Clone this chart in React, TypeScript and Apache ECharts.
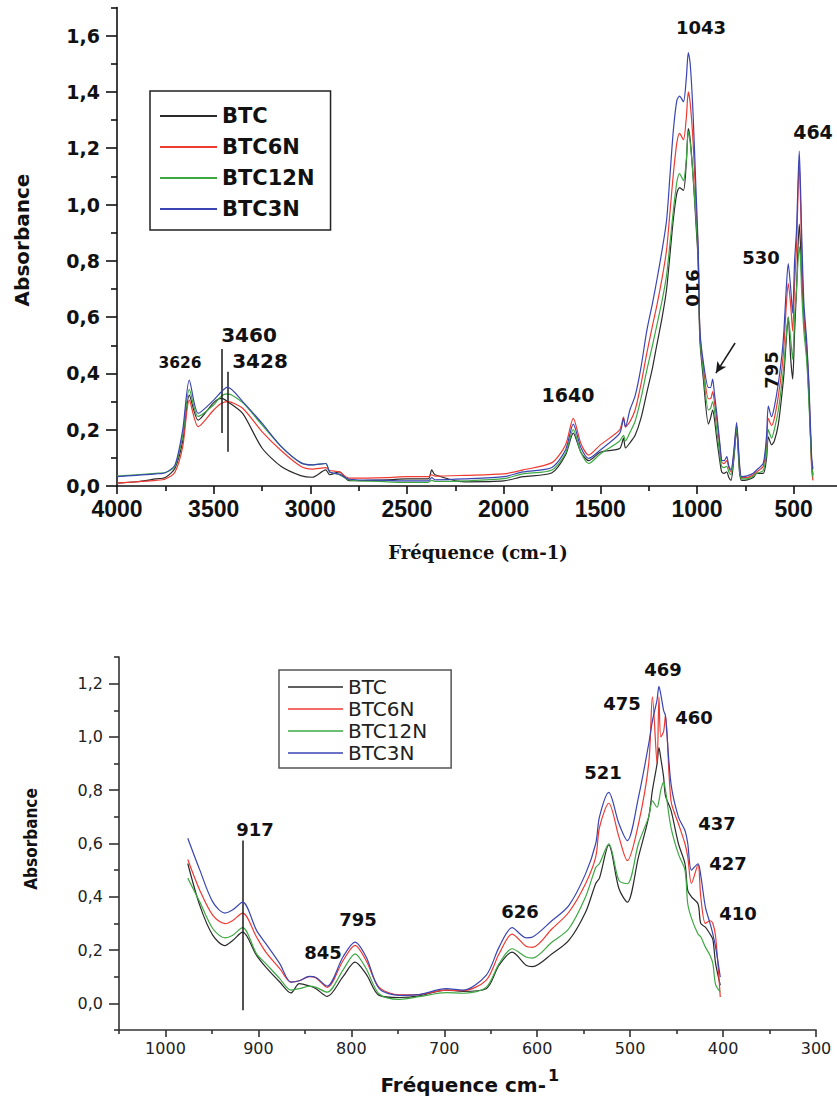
import React, { useEffect, useRef } from 'react';
import * as echarts from 'echarts';

const seriesNames = ['BTC', 'BTC6N', 'BTC12N', 'BTC3N'];
const seriesColors = ['#2a2a2a', '#ee3a31', '#3da842', '#3a45b3'];

// ---------- Top spectrum (4000 - 400 cm-1) ----------
const topWave = [
  4000, 3900, 3800, 3750, 3700, 3660, 3626, 3580, 3500, 3460,
  3428, 3350, 3250, 3150, 3050, 2990, 2920, 2900, 2850, 2800,
  2600, 2500, 2390, 2372, 2355, 2200, 2000, 1900, 1750, 1680, 1640,
  1600, 1560, 1500, 1400, 1380, 1370, 1347, 1320, 1290, 1260,
  1230, 1208, 1180, 1157, 1140, 1122, 1104, 1090, 1070, 1055,
  1045, 1035, 1020, 1005, 994, 985, 967, 941, 930, 919,
  910, 898, 880, 872, 860, 846, 835, 824, 810, 795,
  780, 769, 740, 709, 691, 657, 640, 631, 614, 600,
  579, 560, 550, 540, 528, 515, 505, 495, 485, 471,
  464, 459, 447, 433, 421, 407, 400,
];
const topBTC = [
  0.01, 0.015, 0.025, 0.03, 0.063, 0.16, 0.323, 0.234, 0.296, 0.311,
  0.30, 0.258, 0.135, 0.069, 0.037, 0.031, 0.057, 0.04, 0.05, 0.019,
  0.022, 0.025, 0.025, 0.057, 0.04, 0.015, 0.018, 0.033, 0.047, 0.11, 0.188,
  0.119, 0.09, 0.12, 0.133, 0.17, 0.135, 0.153, 0.18, 0.24, 0.33,
  0.42, 0.50, 0.60, 0.70, 0.82, 0.95, 1.04, 1.06, 1.05, 1.15,
  1.27, 1.23, 1.10, 0.93, 0.80, 0.52, 0.38, 0.22, 0.24, 0.27,
  0.24, 0.17, 0.08, 0.05, 0.045, 0.05, 0.03, 0.02, 0.09, 0.20,
  0.05, 0.02, 0.022, 0.03, 0.045, 0.045, 0.10, 0.175, 0.146, 0.16,
  0.22, 0.33, 0.40, 0.50, 0.60, 0.45, 0.38, 0.55, 0.70, 0.93,
  0.85, 0.75, 0.60, 0.48, 0.32, 0.09, 0.04,
];
const topBTC6N = [
  0.01, 0.015, 0.02, 0.025, 0.05, 0.14, 0.305, 0.211, 0.27, 0.294,
  0.30, 0.276, 0.193, 0.125, 0.07, 0.06, 0.065, 0.055, 0.05, 0.028,
  0.03, 0.033, 0.033, 0.04, 0.035, 0.038, 0.043, 0.057, 0.083, 0.146, 0.24,
  0.15, 0.11, 0.146, 0.199, 0.245, 0.21, 0.228, 0.27, 0.36, 0.47,
  0.57, 0.64, 0.74, 0.84, 0.97, 1.11, 1.22, 1.253, 1.23, 1.31,
  1.40, 1.36, 1.22, 1.0, 0.84, 0.55, 0.42, 0.31, 0.31, 0.335,
  0.30, 0.24, 0.13, 0.085, 0.08, 0.09, 0.065, 0.05, 0.11, 0.215,
  0.07, 0.03, 0.03, 0.04, 0.05, 0.07, 0.15, 0.24, 0.215, 0.24,
  0.32, 0.42, 0.50, 0.62, 0.72, 0.64, 0.55, 0.72, 0.85, 1.15,
  1.0, 0.85, 0.6, 0.5, 0.35, 0.06, 0.02,
];
const topBTC12N = [
  0.035, 0.04, 0.045, 0.048, 0.07, 0.18, 0.343, 0.247, 0.288, 0.32,
  0.327, 0.296, 0.217, 0.14, 0.083, 0.075, 0.08, 0.05, 0.04, 0.022,
  0.015, 0.013, 0.013, 0.02, 0.016, 0.018, 0.026, 0.043, 0.057, 0.116, 0.20,
  0.119, 0.08, 0.114, 0.16, 0.18, 0.16, 0.19, 0.23, 0.31, 0.41,
  0.50, 0.57, 0.66, 0.75, 0.86, 0.98, 1.08, 1.11, 1.085, 1.16,
  1.26, 1.22, 1.10, 0.95, 0.82, 0.54, 0.40, 0.27, 0.275, 0.30,
  0.27, 0.20, 0.10, 0.07, 0.065, 0.07, 0.05, 0.04, 0.10, 0.21,
  0.06, 0.025, 0.025, 0.035, 0.045, 0.055, 0.12, 0.20, 0.17, 0.20,
  0.27, 0.37, 0.43, 0.52, 0.60, 0.52, 0.45, 0.60, 0.70, 0.85,
  0.80, 0.70, 0.55, 0.45, 0.30, 0.08, 0.03,
];
const topBTC3N = [
  0.033, 0.038, 0.043, 0.047, 0.075, 0.20, 0.376, 0.258, 0.305, 0.335,
  0.351, 0.30, 0.223, 0.14, 0.083, 0.075, 0.08, 0.05, 0.042, 0.024,
  0.02, 0.018, 0.018, 0.03, 0.022, 0.025, 0.033, 0.05, 0.066, 0.128, 0.22,
  0.136, 0.098, 0.128, 0.187, 0.24, 0.21, 0.27, 0.32, 0.42, 0.55,
  0.65, 0.73, 0.84, 0.945, 1.10, 1.265, 1.37, 1.385, 1.365, 1.45,
  1.54, 1.50, 1.32, 1.05, 0.85, 0.554, 0.44, 0.35, 0.35, 0.38,
  0.33, 0.26, 0.14, 0.092, 0.09, 0.104, 0.07, 0.057, 0.12, 0.225,
  0.08, 0.033, 0.036, 0.045, 0.057, 0.081, 0.18, 0.284, 0.246, 0.28,
  0.365, 0.47, 0.554, 0.68, 0.79, 0.70, 0.614, 0.80, 0.91, 1.19,
  1.05, 0.91, 0.65, 0.52, 0.365, 0.104, 0.06,
];

// ---------- Bottom spectrum (zoom 976 - 403 cm-1) ----------
const bottomWave = [
  976, 963, 949, 936, 928, 917, 902, 892, 877, 865,
  856, 845, 838, 826, 809, 796, 784, 770, 748, 727,
  698, 680, 655, 641, 627, 612, 605, 584, 566, 548,
  537, 533, 523, 512, 503, 491, 480, 476, 471, 469,
  467, 464, 462, 456, 448, 441, 438, 434, 427, 424,
  419, 414, 411, 408, 403,
];
const bottomBTC = [
  0.525, 0.367, 0.255, 0.217, 0.235, 0.267, 0.18, 0.136, 0.08, 0.039,
  0.074, 0.065, 0.055, 0.026, 0.10, 0.155, 0.11, 0.03, 0.022, 0.028,
  0.05, 0.045, 0.055, 0.143, 0.192, 0.143, 0.138, 0.186, 0.236, 0.342,
  0.45, 0.47, 0.595, 0.43, 0.38, 0.55, 0.70, 0.80, 0.90, 0.96,
  0.92, 0.85, 0.78, 0.724, 0.599, 0.524, 0.424, 0.40, 0.374, 0.30,
  0.286, 0.26, 0.24, 0.149, 0.068,
];
const bottomBTC6N = [
  0.54, 0.424, 0.33, 0.299, 0.31, 0.339, 0.249, 0.192, 0.13, 0.08,
  0.085, 0.10, 0.095, 0.06, 0.16, 0.218, 0.16, 0.06, 0.032, 0.033,
  0.05, 0.048, 0.086, 0.186, 0.26, 0.214, 0.21, 0.28, 0.342, 0.449,
  0.55, 0.66, 0.751, 0.624, 0.536, 0.674, 0.90, 1.15, 0.90, 1.15,
  1.0, 1.02, 1.08, 0.76, 0.674, 0.599, 0.55, 0.45, 0.52, 0.40,
  0.30, 0.31, 0.30, 0.25, 0.024,
];
const bottomBTC12N = [
  0.47, 0.38, 0.28, 0.246, 0.255, 0.284, 0.186, 0.149, 0.093, 0.05,
  0.055, 0.065, 0.06, 0.042, 0.125, 0.186, 0.13, 0.035, 0.015, 0.025,
  0.04, 0.038, 0.06, 0.149, 0.205, 0.174, 0.17, 0.23, 0.28, 0.399,
  0.51, 0.525, 0.599, 0.461, 0.449, 0.60, 0.70, 0.76, 0.736, 0.76,
  0.80, 0.83, 0.80, 0.66, 0.56, 0.50, 0.374, 0.32, 0.26, 0.25,
  0.211, 0.18, 0.15, 0.07, 0.043,
];
const bottomBTC3N = [
  0.62, 0.50, 0.38, 0.339, 0.35, 0.38, 0.274, 0.224, 0.149, 0.08,
  0.085, 0.101, 0.097, 0.065, 0.174, 0.23, 0.174, 0.055, 0.03, 0.033,
  0.055, 0.05, 0.105, 0.211, 0.284, 0.246, 0.249, 0.311, 0.367, 0.486,
  0.60, 0.70, 0.792, 0.674, 0.611, 0.774, 0.974, 1.06, 1.14, 1.19,
  1.16, 1.10, 1.08, 0.824, 0.699, 0.649, 0.60, 0.50, 0.524, 0.48,
  0.361, 0.30, 0.26, 0.21, 0.099,
];

// ---------- Tick values ----------
const topXMajor = [500, 1000, 1500, 2000, 2500, 3000, 3500, 4000];
const topXMinor = [750, 1250, 1750, 2250, 2750, 3250, 3750];
const topYMajor = [0, 0.2, 0.4, 0.6, 0.8, 1.0, 1.2, 1.4, 1.6];
const topYMinor = [0.1, 0.3, 0.5, 0.7, 0.9, 1.1, 1.3, 1.5, 1.7];
const bottomXMajor = [300, 400, 500, 600, 700, 800, 900, 1000];
const bottomXMinor = [350, 450, 550, 650, 750, 850, 950, 1050];
const bottomYMajor = [0, 0.2, 0.4, 0.6, 0.8, 1.0, 1.2];
const bottomYMinor = [-0.1, 0.1, 0.3, 0.5, 0.7, 0.9, 1.1, 1.3];

// ---------- Marker lines (wavenumber, y from, y to) ----------
const topMarkers = [
  [3460, 0.487, 0.188],
  [3428, 0.406, 0.122],
];
const topArrow = [[803, 0.508], [902, 0.401]];
const bottomMarkers = [[917, 0.611, -0.026]];

const topValues = [topBTC, topBTC6N, topBTC12N, topBTC3N];
const bottomValues = [bottomBTC, bottomBTC6N, bottomBTC12N, bottomBTC3N];

const comma = (v: number) => v.toFixed(1).replace('.', ',');
const plain = (v: number) => String(Math.round(v));

const AX = '#111';

function makeAxisPair(
  dim: 'x' | 'y',
  gridIndex: number,
  min: number,
  max: number,
  inverse: boolean,
  major: number[],
  minor: number[],
  majorLen: number,
  minorLen: number,
  label: any,
  lineColor: string,
) {
  const position = dim === 'x' ? 'bottom' : 'left';
  const base = {
    type: 'value',
    gridIndex,
    position,
    offset: 0,
    min,
    max,
    inverse,
    scale: true,
    splitLine: { show: false },
    minorTick: { show: false },
    minorSplitLine: { show: false },
  };
  return [
    {
      ...base,
      axisLine: { show: true, onZero: false, lineStyle: { color: lineColor, width: 1.6 } },
      axisTick: { show: true, customValues: major, length: majorLen, lineStyle: { color: lineColor, width: 1.6 } },
      axisLabel: { show: true, customValues: major, ...label },
    },
    {
      ...base,
      axisLine: { show: false, onZero: false },
      axisTick: { show: true, customValues: minor, length: minorLen, lineStyle: { color: lineColor, width: 1.6 } },
      axisLabel: { show: false },
    },
  ];
}

const topXAxes = makeAxisPair('x', 0, 0, 4000, true, topXMajor, topXMinor, 8, 5, {
  margin: 11, fontSize: 23, fontWeight: 'bold', fontFamily: 'Liberation Sans, Arial, sans-serif', color: AX, formatter: plain,
}, AX);
const topYAxes = makeAxisPair('y', 0, 0, 1.7, false, topYMajor, topYMinor, 11, 6, {
  margin: 17, fontSize: 19, fontWeight: 'bold', fontFamily: 'DejaVu Sans, sans-serif', color: AX, formatter: comma,
}, AX);
const bottomXAxes = makeAxisPair('x', 1, 300, 1050, true, bottomXMajor, bottomXMinor, 7, 4, {
  margin: 10, fontSize: 16, fontFamily: 'DejaVu Sans, sans-serif', color: '#222', formatter: plain,
}, '#333');
const bottomYAxes = makeAxisPair('y', 1, -0.1, 1.3, false, bottomYMajor, bottomYMinor, 10, 5, {
  margin: 16, fontSize: 16, fontFamily: 'DejaVu Sans, sans-serif', color: '#222', formatter: comma,
}, '#333');

const markLineStyle = { color: '#1a1a1a', width: 1.5, type: 'solid' };

const topSeries = seriesNames.map((name, i) => ({
  type: 'line',
  name,
  xAxisIndex: 0,
  yAxisIndex: 0,
  data: topWave.map((w, j) => [w, topValues[i][j]]),
  symbol: 'none',
  showSymbol: false,
  smooth: 0.25,
  silent: true,
  z: 2 + i,
  lineStyle: { width: 1.2, color: seriesColors[i] },
  itemStyle: { color: seriesColors[i] },
  markLine:
    i === 0
      ? {
          silent: true,
          symbol: ['none', 'none'],
          label: { show: false },
          lineStyle: markLineStyle,
          emphasis: { disabled: true },
          data: [
            ...topMarkers.map((m) => [{ coord: [m[0], m[1]] }, { coord: [m[0], m[2]] }]),
            [
              { coord: topArrow[0] },
              { coord: topArrow[1], symbol: 'arrow', symbolSize: [8, 11] },
            ],
          ],
        }
      : undefined,
}));

const bottomSeries = seriesNames.map((name, i) => ({
  type: 'line',
  name,
  xAxisIndex: 2,
  yAxisIndex: 2,
  data: bottomWave.map((w, j) => [w, bottomValues[i][j]]),
  symbol: 'none',
  showSymbol: false,
  smooth: 0.3,
  silent: true,
  z: 2 + i,
  lineStyle: { width: 1.2, color: seriesColors[i] },
  itemStyle: { color: seriesColors[i] },
  markLine:
    i === 0
      ? {
          silent: true,
          symbol: ['none', 'none'],
          label: { show: false },
          lineStyle: markLineStyle,
          emphasis: { disabled: true },
          data: bottomMarkers.map((m) => [{ coord: [m[0], m[1]] }, { coord: [m[0], m[2]] }]),
        }
      : undefined,
}));

function txt(text: string, x: number, y: number, size: number, opts: any = {}) {
  return {
    type: 'text',
    x,
    y,
    rotation: opts.rotation || 0,
    z: 100,
    silent: true,
    style: {
      text,
      fill: opts.color || '#111',
      fontSize: size,
      fontWeight: opts.weight || 'bold',
      fontFamily: opts.family || 'DejaVu Sans, sans-serif',
      textAlign: opts.align || 'center',
      textVerticalAlign: 'middle',
    },
  };
}

const graphics = [
  // top titles
  txt('Absorbance', 22, 240, 20, { rotation: Math.PI / 2 }),
  txt('Fréquence (cm-1)', 478, 552, 18, { family: 'DejaVu Serif, serif' }),
  // top annotations
  txt('1043', 701, 27, 18),
  txt('464', 813, 132, 19),
  txt('530', 761, 257, 18),
  txt('910', 692, 288, 18, { rotation: -Math.PI / 2 }),
  txt('795', 771, 370, 18, { rotation: Math.PI / 2 }),
  txt('3626', 180, 363, 15.5),
  txt('3460', 249, 335, 20),
  txt('3428', 260, 361, 20),
  txt('1640', 568, 395, 19),
  // bottom titles
  txt('Absorbance', 31, 839, 17, { rotation: Math.PI / 2, family: 'DejaVu Sans Condensed, DejaVu Sans, sans-serif' }),
  txt('Fréquence cm-', 546, 1085, 20, { align: 'right' }),
  txt('1', 548, 1075, 16, { align: 'left' }),
  // bottom annotations
  txt('917', 255, 829, 18),
  txt('845', 323, 952, 18),
  txt('795', 358, 919, 18),
  txt('626', 520, 911, 18),
  txt('521', 603, 772, 18),
  txt('475', 622, 703, 18),
  txt('469', 663, 669, 18),
  txt('460', 694, 717, 18),
  txt('437', 717, 823, 18),
  txt('427', 728, 863, 18),
  txt('410', 738, 913, 18),
];

const option: any = {
  animation: false,
  backgroundColor: '#ffffff',
  grid: [
    { left: 117, top: 7.45, width: 773.3, height: 478.55, containLabel: false, outerBoundsMode: 'none' },
    { left: 119, top: 657, width: 697, height: 373, containLabel: false, outerBoundsMode: 'none' },
  ],
  xAxis: [...topXAxes, ...bottomXAxes],
  yAxis: [...topYAxes, ...bottomYAxes],
  legend: [
    {
      left: 150,
      top: 91,
      orient: 'vertical',
      data: seriesNames,
      selectedMode: false,
      icon: 'rect',
      itemWidth: 57,
      itemHeight: 2,
      itemGap: 5,
      padding: [12, 16, 8, 10],
      borderColor: '#222',
      borderWidth: 1.5,
      backgroundColor: '#fff',
      textStyle: { fontFamily: 'DejaVu Sans, sans-serif', fontWeight: 'bold', fontSize: 21, color: '#111', lineHeight: 26 },
    },
    {
      left: 279,
      top: 670,
      orient: 'vertical',
      data: seriesNames,
      selectedMode: false,
      icon: 'rect',
      itemWidth: 55,
      itemHeight: 1.6,
      itemGap: 2,
      padding: [7, 24, 5, 9],
      borderColor: '#555',
      borderWidth: 1.5,
      backgroundColor: '#fff',
      textStyle: { fontFamily: 'DejaVu Sans, sans-serif', fontSize: 20, color: '#222', lineHeight: 20 },
    },
  ],
  series: [...topSeries, ...bottomSeries],
  graphic: graphics,
};

export default function App() {
  const ref = useRef<HTMLDivElement>(null);
  useEffect(() => {
    if (!ref.current) return;
    const chart = echarts.init(ref.current, undefined, { renderer: 'svg' });
    chart.setOption(option);
    return () => chart.dispose();
  }, []);
  return (
    <div
      ref={ref}
      style={{ position: 'absolute', left: 0, top: 0, width: 837, height: 1097, background: '#fff' }}
    />
  );
}
